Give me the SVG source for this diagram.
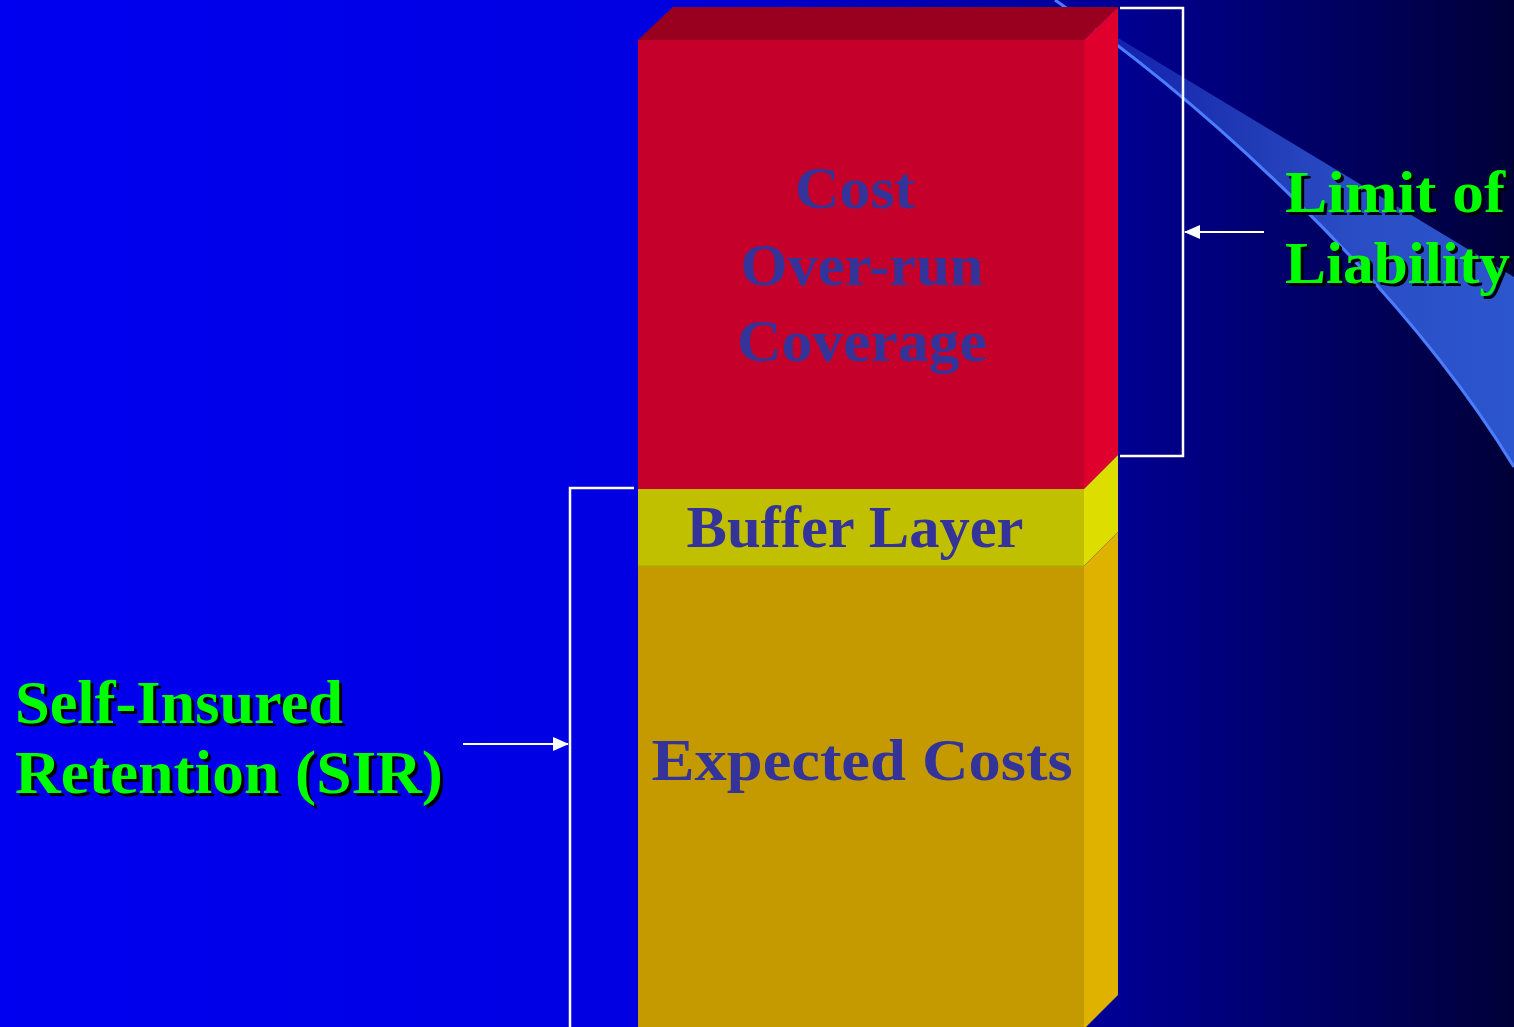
<svg xmlns="http://www.w3.org/2000/svg" width="1514" height="1027" viewBox="0 0 1514 1027">
<defs>
<linearGradient id="bg" x1="0" y1="0" x2="1514" y2="0" gradientUnits="userSpaceOnUse">
<stop offset="0" stop-color="#0000F0"/>
<stop offset="0.42" stop-color="#0000E2"/>
<stop offset="0.74" stop-color="#000092"/>
<stop offset="1" stop-color="#000038"/>
</linearGradient>
<linearGradient id="band" x1="1118" y1="0" x2="1514" y2="0" gradientUnits="userSpaceOnUse">
<stop offset="0" stop-color="#3A64E6" stop-opacity="0.35"/>
<stop offset="0.6" stop-color="#3460E0" stop-opacity="0.8"/>
<stop offset="1" stop-color="#2E5AD6" stop-opacity="0.95"/>
</linearGradient>
<marker id="arrow" viewBox="0 0 16 14" refX="15" refY="7" markerWidth="16" markerHeight="14" markerUnits="userSpaceOnUse" orient="auto">
<path d="M0,0 L16,7 L0,14 Z" fill="#FFFFFF"/>
</marker>
<style>
.layerText{font-family:"Liberation Serif","Times New Roman",serif;font-weight:bold;font-size:60px;fill:#333399;text-anchor:middle}
.label{font-family:"Liberation Serif","Times New Roman",serif;font-weight:bold;fill:#00FF00}
.shadow{font-family:"Liberation Serif","Times New Roman",serif;font-weight:bold;fill:#000000}
.bracket{fill:none;stroke:#FFFFFF;stroke-width:2.5}
.arrowline{fill:none;stroke:#FFFFFF;stroke-width:2}
</style>
</defs>

<rect id="background" x="0" y="0" width="1514" height="1027" fill="url(#bg)"/>

<g id="swoosh">
<path d="M1055,0 C1200,100 1400,280 1514,467 L1514,277 L1075,12 Z" fill="url(#band)"/>
<path d="M1055,0 C1200,100 1400,280 1514,467" fill="none" stroke="#4A7EFF" stroke-width="3"/>
</g>

<g id="cost-overrun-layer">
<polygon points="638,40 673,7 1118,7 1084,40" fill="#990020"/>
<rect x="638" y="40" width="446" height="449" fill="#C5002B"/>
<polygon points="1084,40 1118,7 1118,455 1084,489" fill="#E0002E"/>
<text class="layerText" x="855" y="208" textLength="120" lengthAdjust="spacingAndGlyphs">Cost</text>
<text class="layerText" x="862" y="285" textLength="243" lengthAdjust="spacingAndGlyphs">Over-run</text>
<text class="layerText" x="862" y="361" textLength="250" lengthAdjust="spacingAndGlyphs">Coverage</text>
</g>

<g id="buffer-layer">
<rect x="638" y="489" width="446" height="78" fill="#C1C000"/>
<polygon points="1084,489 1118,455 1118,532 1084,566" fill="#DDDD00"/>
<text class="layerText" x="855" y="547" textLength="337" lengthAdjust="spacingAndGlyphs">Buffer Layer</text>
</g>

<g id="expected-costs-layer">
<rect x="638" y="566" width="446" height="470" fill="#C49A00"/>
<line x1="638" y1="566.5" x2="1084" y2="566.5" stroke="#B0A600" stroke-width="2"/>
<polygon points="1084,566 1118,532 1118,995 1084,1029" fill="#E0B200"/>
<text class="layerText" x="862" y="780" textLength="421" lengthAdjust="spacingAndGlyphs">Expected Costs</text>
</g>

<g id="connectors">
<polyline class="bracket" points="1120,8 1183,8 1183,456 1120,456"/>
<line class="arrowline" x1="1264" y1="232" x2="1185" y2="232" marker-end="url(#arrow)"/>
<polyline class="bracket" points="634,488 570,488 570,1030"/>
<line class="arrowline" x1="463" y1="744" x2="568" y2="744" marker-end="url(#arrow)"/>
</g>

<g id="limit-of-liability-label">
<text class="shadow" font-size="60" x="1288" y="215" textLength="220" lengthAdjust="spacingAndGlyphs">Limit of</text>
<text class="shadow" font-size="60" x="1288" y="286" textLength="225" lengthAdjust="spacingAndGlyphs">Liability</text>
<text class="label" font-size="60" x="1285" y="212" textLength="220" lengthAdjust="spacingAndGlyphs">Limit of</text>
<text class="label" font-size="60" x="1285" y="283" textLength="225" lengthAdjust="spacingAndGlyphs">Liability</text>
</g>

<g id="sir-label">
<text class="shadow" font-size="62" x="18" y="726" textLength="328" lengthAdjust="spacingAndGlyphs">Self-Insured</text>
<text class="shadow" font-size="62" x="18" y="796" textLength="428" lengthAdjust="spacingAndGlyphs">Retention (SIR)</text>
<text class="label" font-size="62" x="15" y="723" textLength="328" lengthAdjust="spacingAndGlyphs">Self-Insured</text>
<text class="label" font-size="62" x="15" y="793" textLength="428" lengthAdjust="spacingAndGlyphs">Retention (SIR)</text>
</g>
</svg>
